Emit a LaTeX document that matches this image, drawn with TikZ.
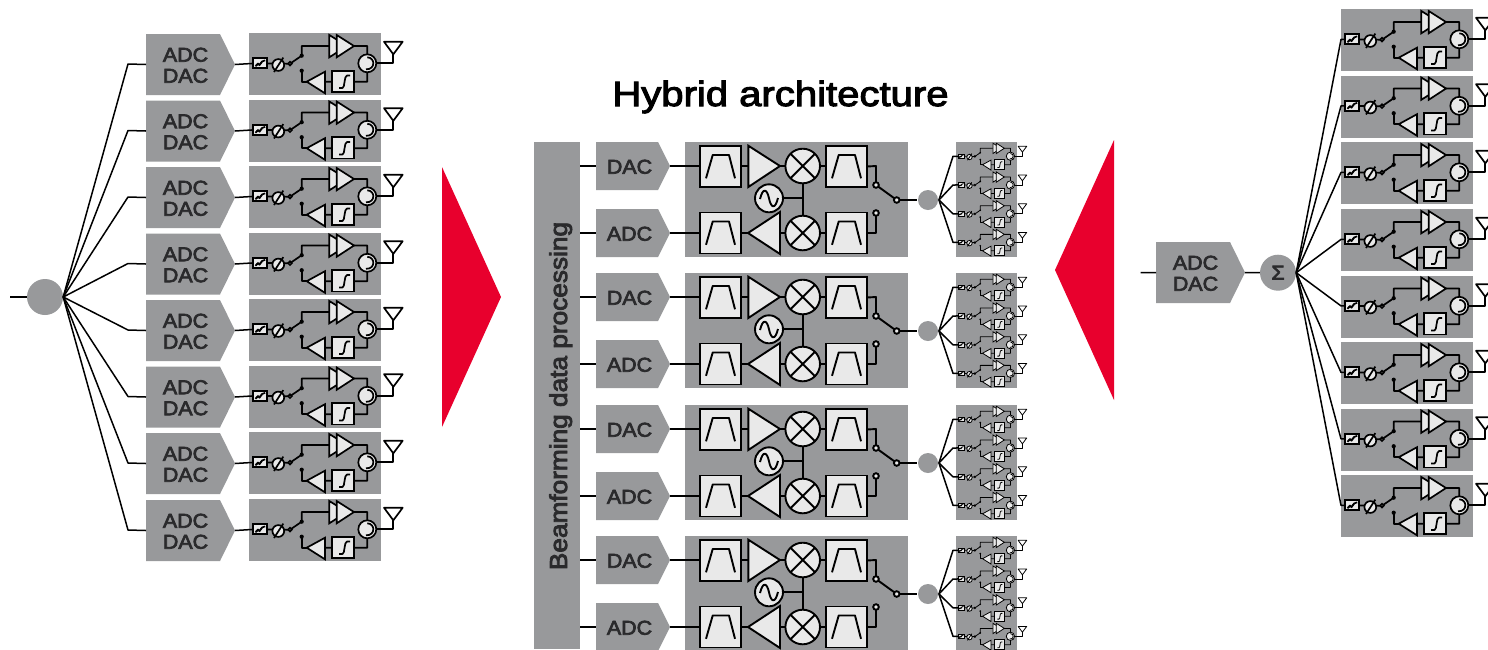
\documentclass[tikz,border=0pt]{standalone}
\usepackage{fontspec}
\setmainfont{Liberation Sans}
\newfontfamily\medf[FakeBold=3,FakeStretch=1.145]{Liberation Sans}
\newfontfamily\labf[FakeBold=3.5,FakeStretch=1.07]{Liberation Sans}
\usetikzlibrary{calc}
\definecolor{gb}{HTML}{98999B}
\definecolor{lt}{HTML}{E9E9E9}
\definecolor{rd}{HTML}{E8002D}
\definecolor{ink}{HTML}{2A2A2C}
\tikzset{
  wire/.style={draw=black,line width=1.5pt,line join=round},
  hubn/.style={circle,fill=gb,inner sep=0pt},
  lab/.style={text=ink,align=center,inner sep=0pt,font=\labf\fontsize{20}{21}\selectfont},
  part/.style={draw=black,fill=lt,line join=miter},
}
% name, x, y, scale
\newcommand{\rfmod}[4]{%
  \pgfmathsetlengthmacro{\mlw}{1.7pt*#4}%
  \begin{scope}[shift={(#2,#3)},scale=#4,line width=\mlw,line join=round]
    \fill[gb] (0,0) rectangle (132,62);
    \coordinate (#1-edge) at (0,30.4);
    \coordinate (#1-in) at (4.3,30.4);
    \draw (18.3,30.4) -- (41,30.7) -- (52.7,22.7) -- (52.7,13) -- (105,13) -- (118.3,13) -- (118.3,48.7) -- (76,48.7);
    \draw (52.7,37.7) -- (52.7,48.7) -- (58,48.7);
    \draw (118.3,30.3) -- (144.3,30.3) -- (144.3,20);
    % attenuator
    \draw[part] (4.3,25.3) rectangle (18.3,35.3);
    \draw (6.5,33.3) -- (9,30.5) -- (10.5,32.2) -- (13,28.5) -- (16.2,27.3);
    \draw (7,32.6) -- (9,31) (11,31) -- (13,29);
    % phase shifter
    \draw[part] (29.3,32) circle[radius=5.9];
    \draw (25,39) -- (34.3,24.6);
    % switch contacts
    \draw[part] (41,30.7) circle[radius=1.8];
    \fill[black] (52.7,22.7) circle[radius=2.1];
    \fill[black] (52.7,37.7) circle[radius=2.1];
    % pa
    \draw[part] (80.3,2) -- (98,13) -- (80.3,24.3) -- cycle;
    \draw[part] (87.7,2) -- (105,13) -- (87.7,24.3) -- cycle;
    % circulator
    \draw[part] (118.3,30.3) circle[radius=9];
    \draw (118.3,24.3) .. controls (122.5,24.3) and (124.5,28) .. (124.3,30.3) .. controls (124.3,33.5) and (122,36.5) .. (117,36.3);
    % limiter
    \draw[part] (83.3,37.7) rectangle (105.3,59);
    \draw (90,55) -- (93.5,55) .. controls (96,55) and (95,42.5) .. (98,42.5) -- (101,42.5);
    % lna
    \draw[part] (57.7,48.7) -- (76,38.7) -- (76,60.3) -- cycle;
    % antenna
    \draw (135,8.7) -- (153.7,8.7) -- (144.3,21.3) -- cycle;
  \end{scope}}
% name, x, y, w, tip, h, text
\newcommand{\penta}[7]{%
  \fill[gb] (#2,#3) -- ++(#4,0) -- ++(#5,{#6/2}) -- ++(-#5,{#6/2}) -- ++(-#4,0) -- cycle;
  \node[lab] (#1) at ({#2+#4/2+2.5},{#3+#6/2+0.8}) {#7};
  \coordinate (#1-w) at (#2,{#3+#6/2});
  \coordinate (#1-e) at ({#2+#4+#5},{#3+#6/2});}
% name, x, y
\newcommand{\filt}[3]{%
  \draw[part] (#2,#3) rectangle ++(41,41);
  \draw (#2,#3) ++(6,32.3) -- ++(6.7,-23.3) -- ++(16.3,0) -- ++(6,23.3);
  \coordinate (#1-w) at (#2,{#3+20.5});
  \coordinate (#1-e) at ({#2+41},{#3+20.5});}
% name, x, y
\newcommand{\mixer}[3]{%
  \draw[part] (#2,#3) circle[radius=17.3];
  \draw (#2,#3) ++(-12.2,-12.2) -- ++(24.4,24.4) (#2,#3) ++(12.2,-12.2) -- ++(-24.4,24.4);
  \coordinate (#1) at (#2,#3);}
% row name, y offset
\newcommand{\bigmod}[2]{%
  \begin{scope}[shift={(0,#2)}]
    \penta{dac#1}{596}{142}{62}{12}{48}{DAC}
    \penta{adc#1}{596}{209}{62}{12}{48}{ADC}
    \fill[gb] (685,142) rectangle (908,257);
    \coordinate (bu#1) at (580,166);
    \coordinate (bd#1) at (580,233);
    \begin{scope}[line width=1.9pt,line join=round]
      \draw (bu#1) -- (dac#1-w);
      \draw (bd#1) -- (adc#1-w);
      \draw (dac#1-e) -- (700,166) (adc#1-e) -- (700,233);
      \draw (741,166) -- (826,166);
      \draw (741,233) -- (826,233);
      \draw (802.7,166) -- (802.7,233);
      \draw (769,198.3) -- (802.7,198.3);
      \filt{fa#1}{700}{146}
      \filt{fb#1}{700}{212.5}
      \filt{fc#1}{826}{146}
      \filt{fd#1}{826}{212.5}
      \draw[part] (748.3,145.7) -- (780,166) -- (748.3,187) -- cycle;
      \draw[part] (780,212) -- (748,233) -- (780,254) -- cycle;
      \mixer{mu#1}{802.7}{166}
      \mixer{md#1}{802.7}{233}
      \draw[part] (769,198.3) circle[radius=14];
      \draw (760,199) .. controls (763,187) and (767,189) .. (769,198.3) .. controls (771,208) and (775,210) .. (778,198);
      \coordinate (sw#1) at (896.7,200);
      \draw (fc#1-e) -- (876,166) -- (876,185);
      \draw (fd#1-e) -- (876,233) -- (876,213);
      \draw (876,185) -- (sw#1);
      \draw[part] (876,185) circle[radius=2.8];
      \draw[part] (876,213) circle[radius=2.8];
      \node[hubn,minimum size=20pt] (hb#1) at (928,200) {};
      \draw (sw#1) -- (hb#1.west);
      \draw[part] (sw#1) circle[radius=2.8];
    \end{scope}
    \foreach \k/\yy in {1/142.3,2/171,3/199.8,4/228.4}{
      \rfmod{mm#1\k}{956}{\yy}{0.46}
      \coordinate (el#1\k) at (953,\yy+14);
      \draw[wire] (hb#1.east) -- (el#1\k) -- (mm#1\k-in);
    }
  \end{scope}}
\begin{document}
\begin{tikzpicture}[x=1pt,y=-1pt]
\useasboundingbox (0,0) rectangle (1488,649);
\clip (0,0) rectangle (1488,649);
\fill[white] (0,0) rectangle (1488,649);
% left column
\node[hubn,minimum size=36pt] (hl) at (45,297) {};
\coordinate (il) at (10,297);
\draw[wire] (il) -- (hl.west);
\foreach \i/\t in {1/33,2/99.5,3/166,4/232.5,5/299,6/365.5,7/432,8/499}{
  \penta{la\i}{146}{\t+1}{74}{15}{61}{ADC\\DAC}
  \rfmod{lm\i}{249}{\t}{1}
  \coordinate (le\i) at (128,\t+31);
  \draw[wire] (hl.east) -- (le\i) -- (la\i-w);
  \draw[wire] (la\i-e) -- (lm\i-in);
}
% red arrows
\fill[rd] (442,167) -- (501,297) -- (442,427) -- cycle;
\fill[rd] (1114,140) -- (1055,270) -- (1114,400) -- cycle;
% centre
\node[text=black,inner sep=0pt,anchor=base,font=\medf\fontsize{35}{36}\selectfont] (title) at (780.5,106) {Hybrid architecture};
\fill[gb] (534,142) rectangle (580,649);
\node[text=ink,inner sep=0pt,rotate=90,anchor=base,font=\labf\fontsize{24.5}{26}\selectfont] (bf) at (567,396) {Beamforming data processing};
\bigmod{a}{0}
\bigmod{b}{131}
\bigmod{c}{263}
\bigmod{d}{394}
% right
\penta{ra}{1156}{242}{74}{15}{61}{ADC\\DAC}
\coordinate (ir) at (1140.7,272.7);
\draw[wire] (ir) -- (ra-w);
\node[hubn,minimum size=36pt,text=ink,font=\labf\fontsize{20}{20}\selectfont] (hr) at (1278,272.7) {Σ};
\draw[wire] (ra-e) -- (hr.west);
\foreach \i/\t in {1/9,2/75.5,3/142,4/209,5/275.5,6/342,7/408.5,8/475}{
  \rfmod{rm\i}{1341}{\t}{1}
  \draw[wire] (hr.east) -- (rm\i-edge) -- (rm\i-in);
}
\end{tikzpicture}
\end{document}
